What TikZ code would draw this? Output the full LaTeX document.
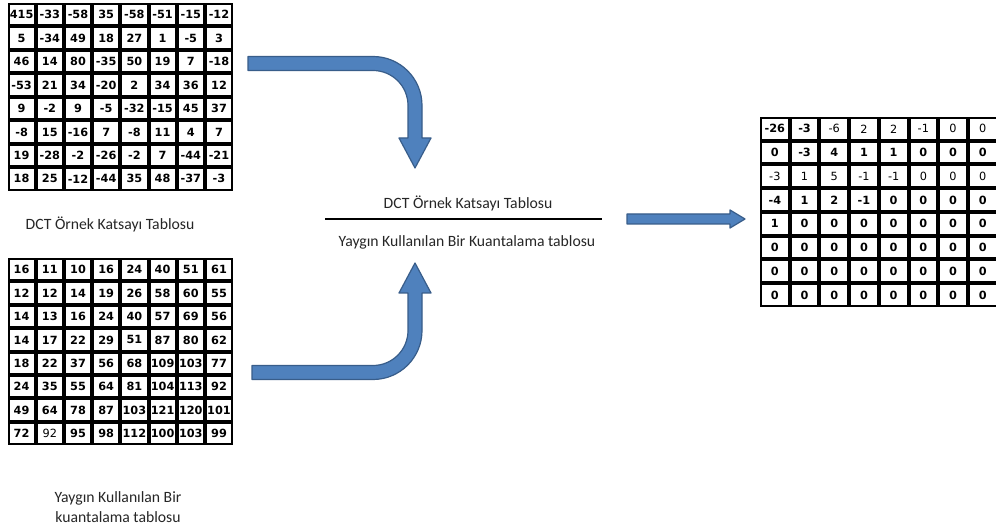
\documentclass[tikz,border=0pt]{standalone}
\usepackage{fontspec}
\setmainfont{Carlito}
\newfontfamily\cellfont{DejaVu Sans}
\definecolor{arrowfill}{HTML}{4F81BD}
\definecolor{arrowedge}{HTML}{385D8A}
\definecolor{labeltext}{HTML}{262626}

\tikzset{
  cellbox/.style={fill=white, draw=none, inner sep=0pt,
    font=\cellfont\bfseries\fontsize{11.3}{12}\selectfont},
  lbl/.style={font=\fontsize{15.7}{19.5}\selectfont, text=labeltext, inner sep=1pt},
  blockarrow/.style={fill=arrowfill, draw=arrowedge, line width=1.2pt, line join=round},
}

% #1 name, #2 x0, #3 y0, #4 column width, #5 row height, #6 rows of entries
\newcommand\numgrid[6]{%
  \fill[black] (#2,#3) rectangle ({#2+8*#4},{#3+8*#5});
  \foreach \rowvals [count=\r] in {#6} {
    \foreach \v [count=\c] in \rowvals {
      \node[cellbox, minimum width={#4pt-4pt}, minimum height={#5pt-4pt}]
        (#1-\r-\c) at ({#2+(\c-0.5)*#4},{#3+(\r-0.5)*#5}) {\v};
    }
  }%
}

\begin{document}
\begin{tikzpicture}[x=1pt,y=-1pt]
\useasboundingbox[fill=white] (0,0) rectangle (996,526);

% DCT coefficient table
\numgrid{dct}{7.5}{3}{28.2}{23.45}{
  {415,-33,-58,35,-58,-51,-15,-12},
  {5,-34,49,18,27,1,-5,3},
  {46,14,80,-35,50,19,7,-18},
  {-53,21,34,-20,2,34,36,12},
  {9,-2,9,-5,-32,-15,45,37},
  {-8,15,-16,7,-8,11,4,7},
  {19,-28,-2,-26,-2,7,-44,-21},
  {18,25,-12,-44,35,48,-37,-3}}

% quantization table
\numgrid{qt}{7.5}{258}{28.2}{23.4}{
  {16,11,10,16,24,40,51,61},
  {12,12,14,19,26,58,60,55},
  {14,13,16,24,40,57,69,56},
  {14,17,22,29,51,87,80,62},
  {18,22,37,56,68,109,103,77},
  {24,35,55,64,81,104,113,92},
  {49,64,78,87,103,121,120,101},
  {72,{\mdseries 92},95,98,112,100,103,99}}

% quantized result
\numgrid{res}{760}{117}{29.7}{23.75}{
  {-26,-3,{\mdseries -6},{\mdseries 2},{\mdseries 2},{\mdseries -1},{\mdseries 0},{\mdseries 0}},
  {0,-3,4,1,1,0,0,0},
  {{\mdseries -3},{\mdseries 1},{\mdseries 5},{\mdseries -1},{\mdseries -1},{\mdseries 0},{\mdseries 0},{\mdseries 0}},
  {-4,1,2,-1,0,0,0,0},
  {1,0,0,0,0,0,0,0},
  {0,0,0,0,0,0,0,0},
  {0,0,0,0,0,0,0,0},
  {0,0,0,0,0,0,0,0}}

% captions
\node[lbl] (capdct) at (110,224) {DCT Örnek Katsayı Tablosu};
\node[lbl, align=center] (capqt) at (118,507) {Yaygın Kullanılan Bir\\kuantalama tablosu};

% division: coefficients over quantization values
\node[lbl] (num) at (468,203) {DCT Örnek Katsayı Tablosu};
\node[lbl] (den) at (467,242) {Yaygın Kullanılan Bir Kuantalama tablosu};
\coordinate (barL) at (325,219);
\coordinate (barR) at (602,219);
\draw[line width=1.1pt] (barL) -- (barR);

% bent arrow from the DCT table down to the fraction
\draw[blockarrow] (248,56.5) -- (373,56.5) arc[start angle=-90, end angle=0, radius=49]
  -- (422,138) -- (431,138) -- (415,168) -- (399,138) -- (408,138) -- (408,105.5)
  arc[start angle=0, end angle=-90, radius=35] -- (248,70.5) -- cycle;

% bent arrow from the quantization table up to the fraction
\draw[blockarrow] (252,365.5) -- (373,365.5) arc[start angle=90, end angle=0, radius=35]
  -- (408,293) -- (399,293) -- (415,263) -- (431,293) -- (422,293) -- (422,330.5)
  arc[start angle=0, end angle=90, radius=49] -- (252,379.5) -- cycle;

% arrow to the quantized result
\draw[blockarrow] (627,214) -- (730,214) -- (730,210) -- (745,219) -- (730,228)
  -- (730,224) -- (627,224) -- cycle;
\end{tikzpicture}
\end{document}
